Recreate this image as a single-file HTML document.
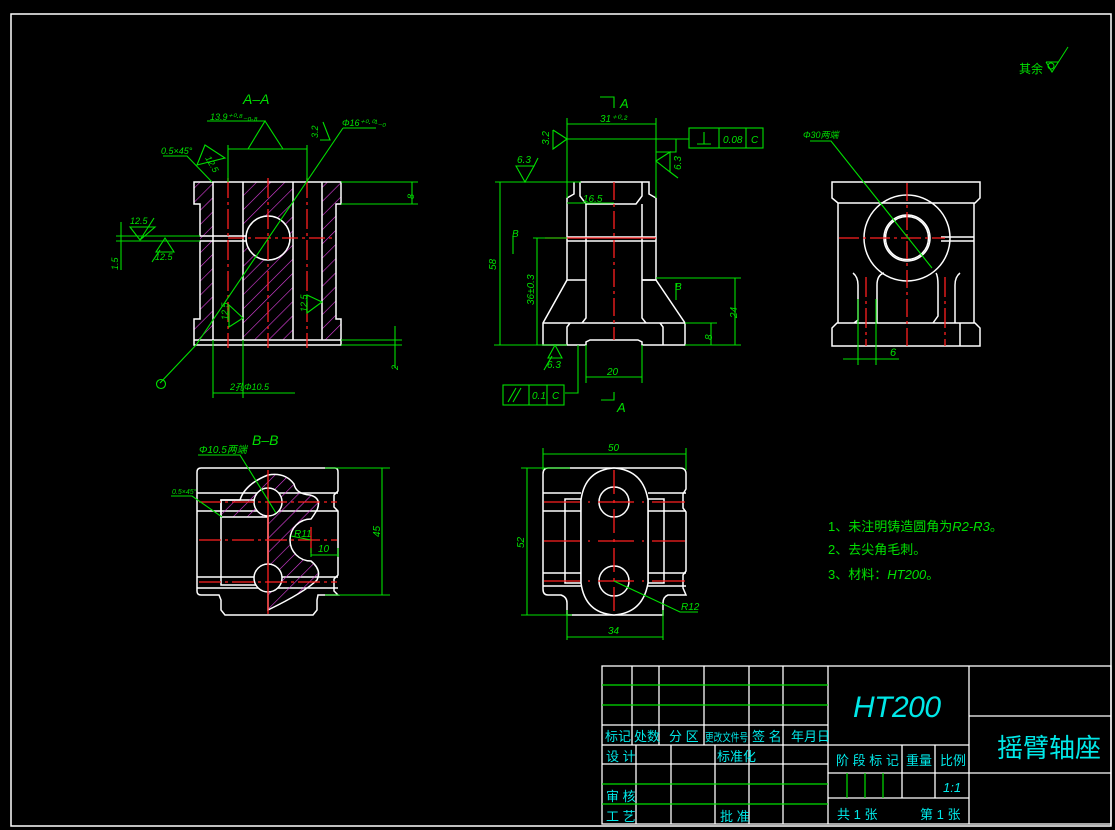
<!DOCTYPE html>
<html><head><meta charset="utf-8"><style>
html,body{margin:0;padding:0;background:#000;}
svg{display:block;}
text{font-family:"Liberation Sans","Noto Sans CJK SC",sans-serif;}
</style></head><body>
<svg width="1115" height="830" viewBox="0 0 1115 830" xmlns="http://www.w3.org/2000/svg">
<defs>
<pattern id="h" width="10" height="10" patternUnits="userSpaceOnUse" patternTransform="rotate(45)">
<line x1="0" y1="0" x2="0" y2="10" stroke="#e040e0" stroke-width="1.2"/></pattern>
</defs>
<rect width="1115" height="830" fill="#000"/>
<rect x="11" y="14" width="1100" height="812" fill="none" stroke="#fff" stroke-width="1.5"/>

<!-- Title block -->
<g stroke="#fff" stroke-width="1.3" fill="none">
<rect x="602" y="666" width="509" height="158"/>
<line x1="602" y1="725" x2="828" y2="725"/><line x1="602" y1="745" x2="828" y2="745"/>
<line x1="602" y1="764" x2="828" y2="764"/>
<line x1="632" y1="666" x2="632" y2="745"/><line x1="659" y1="666" x2="659" y2="745"/>
<line x1="704" y1="666" x2="704" y2="745"/><line x1="749" y1="666" x2="749" y2="824"/>
<line x1="783" y1="666" x2="783" y2="824"/><line x1="828" y1="666" x2="828" y2="824"/>
<line x1="636" y1="745" x2="636" y2="824"/><line x1="671" y1="745" x2="671" y2="824"/>
<line x1="715" y1="745" x2="715" y2="824"/>
<line x1="969" y1="666" x2="969" y2="824"/>
<line x1="828" y1="745" x2="969" y2="745"/><line x1="828" y1="773" x2="969" y2="773"/>
<line x1="828" y1="798" x2="969" y2="798"/>
<line x1="902" y1="745" x2="902" y2="798"/><line x1="935" y1="745" x2="935" y2="798"/>
<line x1="969" y1="716" x2="1111" y2="716"/><line x1="969" y1="773" x2="1111" y2="773"/>
</g>
<g stroke="#00e000" stroke-width="1.2">
<line x1="602" y1="685" x2="828" y2="685"/><line x1="602" y1="705" x2="828" y2="705"/>
<line x1="602" y1="784" x2="828" y2="784"/><line x1="602" y1="804" x2="828" y2="804"/>
<line x1="847" y1="773" x2="847" y2="798"/><line x1="865" y1="773" x2="865" y2="798"/>
<line x1="883" y1="773" x2="883" y2="798"/>
</g>
<g fill="#00e8e8" font-size="13">
<text x="605" y="741">标记</text><text x="634" y="741">处数</text><text x="669" y="741">分 区</text>
<text x="705" y="741" font-size="11" textLength="43" lengthAdjust="spacingAndGlyphs">更改文件号</text><text x="752" y="741">签 名</text><text x="791" y="741">年月日</text>
<text x="606" y="761">设 计</text><text x="717" y="761">标准化</text>
<text x="606" y="801">审 核</text><text x="606" y="821">工 艺</text><text x="720" y="821">批 准</text>
<text x="836" y="765">阶 段 标 记</text><text x="906" y="765">重量</text><text x="940" y="765">比例</text>
<text x="943" y="792" font-style="italic">1:1</text>
<text x="837" y="819">共 1 张</text><text x="920" y="819">第 1 张</text>
<text x="853" y="717" font-size="30" font-style="italic" textLength="88">HT200</text>
<text x="997" y="757" font-size="26">摇臂轴座</text>
</g>

<!-- top right 其余 -->
<g fill="#00e000" stroke="#00e000">
<text x="1019" y="73" font-size="12" stroke="none">其余</text>
<path d="M1046 62 L1052 72 L1068 47 M1046 62 L1058 62" fill="none"/>
<circle cx="1051" cy="66" r="3" fill="none"/>
</g>

<!-- ===== A-A view ===== -->
<text x="243" y="104" fill="#00e000" font-size="14" font-style="italic">A–A</text>
<g>
<path d="M194 182 H213 V340 H194 V319 H200 V204 H194 Z" fill="url(#h)"/>
<path d="M322 182 H341 V204 H336 V319 H341 V340 H322 Z" fill="url(#h)"/>
<path d="M243 182 H293 V340 H243 Z" fill="url(#h)"/>
<circle cx="268" cy="238" r="22" fill="#000"/>
</g>
<g stroke="#fff" stroke-width="1.5" fill="none">
<path d="M246 236 H200 V204 H194 V182 H341 V204 H336 V319 H341 V345 H194 V319 H200 V241 H246"/>
<line x1="194" y1="340" x2="341" y2="340"/>
<line x1="213" y1="182" x2="213" y2="340"/><line x1="243" y1="182" x2="243" y2="340"/>
<line x1="293" y1="182" x2="293" y2="340"/><line x1="322" y1="182" x2="322" y2="340"/>
<circle cx="268" cy="238" r="22" fill="#000"/>
</g>
<g stroke="#ff2020" stroke-width="1.3">
<line x1="228" y1="178" x2="228" y2="348" stroke-dasharray="20 4 3 4"/>
<line x1="268" y1="178" x2="268" y2="348" stroke-dasharray="20 4 3 4"/>
<line x1="307" y1="178" x2="307" y2="348" stroke-dasharray="20 4 3 4"/>
<line x1="228" y1="238" x2="336" y2="238" stroke-dasharray="16 4 3 4"/>
</g>
<g stroke="#00e000" stroke-width="1.1" fill="none">
<line x1="228" y1="145" x2="228" y2="182"/><line x1="307" y1="145" x2="307" y2="182"/>
<line x1="228" y1="149" x2="307" y2="149"/>
<path d="M207 121 H265 L248 149 M265 121 L283 149"/>
<path d="M163 156 H187 L212 182"/><path d="M197 165 L205 145 L225 158 Z"/>
<path d="M343 128 H376"/><path d="M343 128 L196 345 L160 383"/>
<path d="M320 140 L330 140 L323 122"/>
<circle cx="161" cy="384" r="4.5"/>
<line x1="341" y1="182" x2="418" y2="182"/><line x1="341" y1="204" x2="418" y2="204"/><line x1="412" y1="182" x2="412" y2="204"/>
<line x1="116" y1="236" x2="200" y2="236"/><line x1="116" y1="241" x2="200" y2="241"/><line x1="121" y1="222" x2="121" y2="270"/>
<path d="M130 227 H155 L140 240 Z M154 218 L140 240"/>
<path d="M165 238 L156 252 H174 Z M152 262 L160 250"/>
<line x1="341" y1="340" x2="402" y2="340"/><line x1="341" y1="345" x2="402" y2="345"/><line x1="395" y1="326" x2="395" y2="368"/>
<line x1="213" y1="340" x2="213" y2="398"/><line x1="243" y1="340" x2="243" y2="398"/><line x1="213" y1="393" x2="295" y2="393"/>
<path d="M229 305 L243 318 L229 327 Z"/><path d="M307 295 L322 302 L307 313 Z"/>
</g>
<g fill="#00e000" font-size="9" font-style="italic">
<text x="210" y="120">13.9⁺⁰·⁸₋₀.₈</text><text x="161" y="154">0.5×45°</text>
<text x="342" y="126">Φ16⁺⁰·⁰¹₋₀</text><text x="130" y="224">12.5</text><text x="155" y="260">12.5</text>
<text x="230" y="390">2孔Φ10.5</text>
<text transform="translate(118,270) rotate(-90)">1.5</text>
<text transform="translate(398,370) rotate(-90)">2</text>
<text transform="translate(414,199) rotate(-90)">8</text>
<text transform="translate(228,320) rotate(-90)">12.5</text>
<text transform="translate(307,312) rotate(-90)">12.5</text>
<text transform="translate(318,138) rotate(-90)">3.2</text>
<text transform="translate(205,158) rotate(60)">12.5</text>
</g>

<!-- ===== Front view ===== -->
<g stroke="#fff" stroke-width="1.5" fill="none">
<path d="M580 182 H649 V194 L656 198 V280 H642 L656 280 L685 323 V345 H642 V342 L638 340 H590 L586 342 V345 H543 V323 L567 280 V198 L574 194 V182"/>
<path d="M580 182 V196 L586 204 H636 L642 196 V182"/>
<path d="M567 237 H656 M567 241 H656"/>
<path d="M586 204 V318 L582 323 M642 204 V318 L646 323"/>
<path d="M543 323 H685 M567 280 H586 M642 280 H656"/>
<path d="M567 345 V327 L570 323 M663 345 V327 L660 323"/>
</g>
<g stroke="#ff2020" stroke-width="1.3">
<line x1="614" y1="182" x2="614" y2="340" stroke-dasharray="18 4 3 4"/>
<line x1="545" y1="238" x2="656" y2="238"/>
</g>
<g stroke="#00e000" stroke-width="1.1" fill="none">
<line x1="567" y1="118" x2="567" y2="198"/><line x1="656" y1="118" x2="656" y2="198"/>
<line x1="567" y1="124" x2="656" y2="124"/>
<path d="M567 139 H676 V152 H656 M676 139 H689"/>
<rect x="689" y="128" width="74" height="20"/><line x1="719" y1="128" x2="719" y2="148"/><line x1="746" y1="128" x2="746" y2="148"/>
<path d="M697 144 H711 M704 132 V144"/>
<path d="M567 139 L553 130 M567 139 L553 149 L553 130"/>
<path d="M656 161 L670 152 L670 172 Z M670 172 L678 178"/>
<path d="M495 182 H581"/><path d="M516 166 L525 182 L534 166 Z M534 166 L538 158"/>
<line x1="500" y1="182" x2="500" y2="345"/>
<line x1="533" y1="238" x2="567" y2="238"/><line x1="537" y1="238" x2="537" y2="345"/>
<line x1="494" y1="345" x2="567" y2="345"/>
<path d="M567 203 H614"/>
<line x1="685" y1="323" x2="717" y2="323"/><line x1="711" y1="323" x2="711" y2="345"/>
<line x1="656" y1="278" x2="741" y2="278"/><line x1="735" y1="278" x2="735" y2="345"/><line x1="685" y1="345" x2="741" y2="345"/>
<path d="M555 345 L548 358 H562 Z M544 370 L552 356"/>
<line x1="586" y1="345" x2="586" y2="383"/><line x1="642" y1="345" x2="642" y2="383"/><line x1="586" y1="377" x2="642" y2="377"/>
<path d="M578 345 V393 H565"/>
<rect x="503" y="385" width="61" height="20"/><line x1="529" y1="385" x2="529" y2="405"/><line x1="547" y1="385" x2="547" y2="405"/>
<path d="M508 402 L516 388 M513 402 L521 388"/>
<path d="M600 97 H614 V108 M601 400 H614 V392"/>
<path d="M513 237 V254 M676 283 V300"/>
</g>
<g fill="#00e000" font-size="10" font-style="italic">
<text x="620" y="108" font-size="13">A</text><text x="617" y="412" font-size="13">A</text>
<text x="600" y="122">31⁺⁰·²</text><text x="723" y="143">0.08</text><text x="751" y="143">C</text>
<text x="517" y="163">6.3</text><text x="583" y="202">16.5</text>
<text x="547" y="368">6.3</text><text x="607" y="375">20</text>
<text x="532" y="399">0.1</text><text x="552" y="399">C</text>
<text x="512" y="237">B</text><text x="675" y="290">B</text>
<text transform="translate(496,270) rotate(-90)">58</text>
<text transform="translate(534,305) rotate(-90)">36±0.3</text>
<text transform="translate(737,318) rotate(-90)">24</text>
<text transform="translate(712,340) rotate(-90)">8</text>
<text transform="translate(549,145) rotate(-90)">3.2</text>
<text transform="translate(681,170) rotate(-90)">6.3</text>
</g>

<!-- ===== Side view ===== -->
<g stroke="#fff" stroke-width="1.5" fill="none">
<path d="M832 182 H980 V198 L975 203 H838 L832 198 Z"/>
<path d="M838 203 V323 M974 203 V323 M941 237 H974 M941 241 H974"/>
<path d="M832 328 L837 323 H975 L980 328 V346 H832 Z M960 323 V346"/>
<circle cx="907" cy="238" r="43"/><circle cx="907" cy="238" r="23"/><circle cx="907" cy="238" r="21.5"/>
<path d="M853 273 Q858 277 858 285 V320 L854 323 M877 323 V285 Q877 275 884 273"/>
<path d="M936 273 Q938 276 938 285 V316 L933 323 M955 323 V285 Q955 277 960 273"/>
</g>
<g stroke="#ff2020" stroke-width="1.3">
<line x1="907" y1="183" x2="907" y2="346" stroke-dasharray="18 4 3 4"/>
<line x1="839" y1="238" x2="945" y2="238" stroke-dasharray="20 4 3 4"/>
<line x1="866" y1="277" x2="866" y2="346" stroke-dasharray="20 4 3 4"/>
<line x1="945" y1="277" x2="945" y2="346" stroke-dasharray="20 4 3 4"/>
</g>
<g stroke="#00e000" stroke-width="1.1" fill="none">
<path d="M810 141 H831 L932 268"/>
<line x1="858" y1="299" x2="858" y2="365"/><line x1="876" y1="299" x2="876" y2="365"/><line x1="843" y1="359" x2="899" y2="359"/>
</g>
<g fill="#00e000" font-size="9" font-style="italic"><text x="803" y="138">Φ30两端</text><text x="890" y="356" font-size="11">6</text></g>

<!-- ===== B-B view ===== -->
<text x="252" y="445" fill="#00e000" font-size="14" font-style="italic">B–B</text>
<g stroke="#fff" stroke-width="1.5" fill="none">
<path d="M201 468 H335 Q338 468 338 472 V491 L334 495 V507 L338 511 V575 L334 579 V591 L338 595 L326 595 H318 L317 600 V610 L313 615 H225 L221 610 V600 L219 595 H201 Q197 595 197 591 V472 Q197 468 201 468 Z"/>
<line x1="197" y1="493" x2="338" y2="493"/><line x1="197" y1="511" x2="338" y2="511"/>
<line x1="197" y1="577" x2="338" y2="577"/><line x1="197" y1="588" x2="338" y2="588"/>
<rect x="221" y="500" width="47" height="85"/>
</g>
<path d="M221 500 H240 Q245 484 268 475 Q285 472 294 484 Q296 494 310 495 Q322 498 317 510 Q312 518 311 519 A21 21 0 0 0 311 561 Q322 570 317 580 Q305 592 268 610 V517 H221 Z" fill="url(#h)" stroke="#fff" stroke-width="1.5"/>
<circle cx="268" cy="502" r="14" fill="#000" stroke="#fff" stroke-width="1.5"/>
<circle cx="268" cy="578" r="14" fill="#000" stroke="#fff" stroke-width="1.5"/>
<g stroke="#ff2020" stroke-width="1.3">
<line x1="268" y1="470" x2="268" y2="614"/>
<line x1="199" y1="502" x2="337" y2="502" stroke-dasharray="22 4 3 4"/>
<line x1="199" y1="540" x2="337" y2="540" stroke-dasharray="22 4 3 4"/>
<line x1="199" y1="582" x2="337" y2="582" stroke-dasharray="22 4 3 4"/>
<line x1="311" y1="527" x2="311" y2="553"/>
</g>
<g stroke="#00e000" stroke-width="1.1" fill="none">
<path d="M198 455 H240 L276 513"/><path d="M171 496 H192 L222 517"/>
<path d="M291 536 L311 540"/><line x1="311" y1="548" x2="311" y2="557"/><line x1="338" y1="548" x2="338" y2="557"/><line x1="311" y1="555" x2="338" y2="555"/>
<line x1="325" y1="468" x2="390" y2="468"/><line x1="325" y1="595" x2="390" y2="595"/><line x1="382" y1="468" x2="382" y2="595"/>
</g>
<g fill="#00e000" font-size="10" font-style="italic">
<text x="199" y="453">Φ10.5两端</text><text x="172" y="494" font-size="7">0.5×45°</text>
<text x="294" y="537">R11</text><text x="318" y="552">10</text>
<text transform="translate(380,537) rotate(-90)">45</text>
</g>

<!-- ===== Bottom view ===== -->
<g stroke="#fff" stroke-width="1.5" fill="none">
<path d="M548 468 H680 Q686 468 686 474 V489 L683 494 V508 L686 512 V571 L683 575 V588 L686 595 H668 Q663 597 663 603 V615 H567 V603 Q567 597 561 595 H548 Q543 595 543 589 V474 Q543 468 548 468 Z"/>
<line x1="543" y1="493" x2="581" y2="493"/><line x1="543" y1="511" x2="581" y2="511"/>
<line x1="543" y1="573" x2="581" y2="573"/><line x1="543" y1="586" x2="581" y2="586"/>
<line x1="648" y1="493" x2="686" y2="493"/><line x1="648" y1="511" x2="686" y2="511"/>
<line x1="648" y1="573" x2="686" y2="573"/><line x1="648" y1="586" x2="686" y2="586"/>
<rect x="565" y="499" width="16" height="84"/><rect x="648" y="499" width="16" height="84"/>
<path d="M581 500 Q585 470 614 468 Q643 470 648 500 V583 Q643 613 614 615 Q585 613 581 583 Z" fill="#000"/>
<circle cx="614" cy="502" r="15"/><circle cx="614" cy="581" r="15"/>
</g>
<g stroke="#ff2020" stroke-width="1.3">
<line x1="614" y1="470" x2="614" y2="612" stroke-dasharray="24 6 3 6"/>
<line x1="544" y1="502" x2="685" y2="502" stroke-dasharray="36 8 2 8"/>
<line x1="544" y1="541" x2="685" y2="541" stroke-dasharray="36 8 2 8"/>
<line x1="544" y1="581" x2="685" y2="581" stroke-dasharray="36 8 2 8"/>
</g>
<g stroke="#00e000" stroke-width="1.1" fill="none">
<line x1="543" y1="448" x2="543" y2="470"/><line x1="686" y1="448" x2="686" y2="470"/><line x1="543" y1="454" x2="686" y2="454"/>
<line x1="521" y1="468" x2="570" y2="468"/><line x1="521" y1="615" x2="572" y2="615"/><line x1="527" y1="468" x2="527" y2="615"/>
<line x1="567" y1="610" x2="567" y2="640"/><line x1="663" y1="610" x2="663" y2="640"/><line x1="567" y1="637" x2="663" y2="637"/>
<path d="M614 581 L680 612 H698"/>
</g>
<g fill="#00e000" font-size="10" font-style="italic">
<text x="608" y="451">50</text><text x="608" y="634">34</text><text x="681" y="610">R12</text>
<text transform="translate(524,548) rotate(-90)">52</text>
</g>

<!-- notes -->
<g fill="#00e000" font-size="13">
<text x="828" y="531">1、未注明铸造圆角为<tspan font-style="italic">R2-R3</tspan>。</text>
<text x="828" y="554">2、去尖角毛刺。</text>
<text x="828" y="579">3、材料：<tspan font-style="italic">HT200</tspan>。</text>
</g>
</svg>
</body></html>
